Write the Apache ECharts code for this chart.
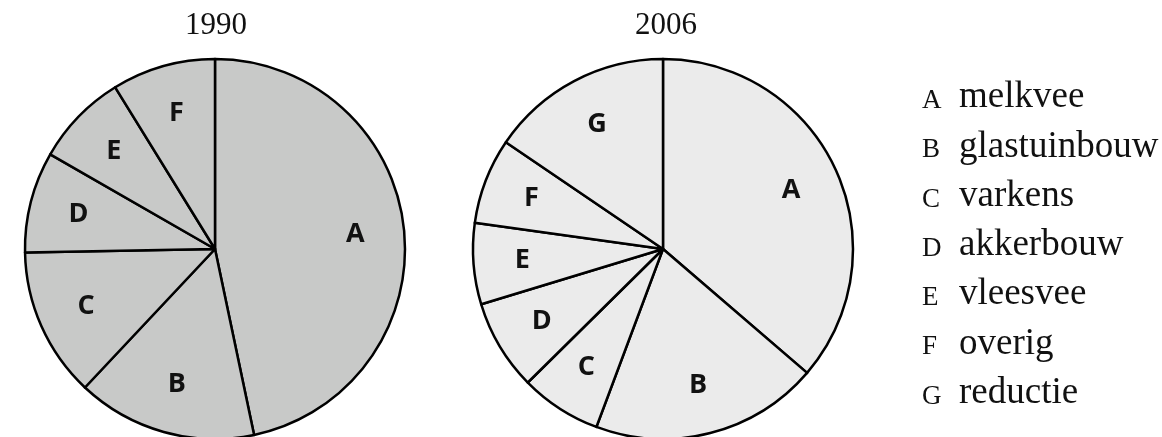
<!DOCTYPE html>
<html>
<head>
<meta charset="utf-8">
<script src="https://cdn.jsdelivr.net/npm/echarts@6/dist/echarts.min.js"></script>
<style>
    html, body { margin: 0; padding: 0; background: #fff; }
    #main { width: 1162px; height: 437px; }
</style>
</head>
<body>
<div id="main"></div>
<script>
// data
var years = ['1990', '2006'];
var cats1990 = ['A', 'B', 'C', 'D', 'E', 'F'];
var vals1990 = [46.7, 15.3, 12.7, 8.6, 7.9, 8.8];
var cats2006 = ['A', 'B', 'C', 'D', 'E', 'F', 'G'];
var vals2006 = [36.3, 19.4, 6.9, 7.7, 6.9, 7.3, 15.5];
var legendKeys = ['A', 'B', 'C', 'D', 'E', 'F', 'G'];
var legendNames = ['melkvee', 'glastuinbouw', 'varkens', 'akkerbouw', 'vleesvee', 'overig', 'reductie'];

var serif = '"Liberation Serif", "DejaVu Serif", serif';

function toData(cats, vals) {
    return cats.map(function (c, i) { return { name: c, value: vals[i] }; });
}

// gevulde taart
function pieSeries(cats, vals, center, fill) {
    return {
        type: 'pie',
        silent: true,
        center: center,
        radius: 190,
        startAngle: 90,
        clockwise: true,
        label: { show: false },
        labelLine: { show: false },
        itemStyle: { color: fill, borderColor: '#000', borderWidth: 2.5 },
        data: toData(cats, vals)
    };
}

// alleen de letters, iets verder naar buiten
function labelSeries(cats, vals, center) {
    return {
        type: 'pie',
        silent: true,
        center: center,
        radius: [86, 190],
        startAngle: 90,
        clockwise: true,
        itemStyle: { color: 'rgba(0,0,0,0)', borderWidth: 0 },
        label: {
            show: true,
            position: 'inside',
            formatter: '{b}',
            color: '#111',
            fontFamily: '"Open Sans", "Noto Sans", sans-serif',
            fontWeight: 'bold',
            fontSize: 27
        },
        labelLine: { show: false },
        data: toData(cats, vals)
    };
}

var graphics = [];
legendKeys.forEach(function (k, i) {
    var base = 110 + i * 49.3;
    graphics.push({
        type: 'text', silent: true,
        style: { text: k, x: 922, y: base - 0.3375 * 27, font: '27px ' + serif, fill: '#111', verticalAlign: 'middle' }
    });
    graphics.push({
        type: 'text', silent: true,
        style: { text: legendNames[i], x: 959, y: base - 0.3375 * 37, font: '37px ' + serif, fill: '#111', verticalAlign: 'middle' }
    });
});

var myChart = echarts.init(document.getElementById('main'));
var option = {
    animation: false,
    backgroundColor: '#fff',
    title: [
        { text: years[0], left: 216, top: 10, textAlign: 'center', padding: 0,
          textStyle: { fontFamily: serif, fontWeight: 'normal', fontSize: 31, color: '#111' } },
        { text: years[1], left: 666, top: 10, textAlign: 'center', padding: 0,
          textStyle: { fontFamily: serif, fontWeight: 'normal', fontSize: 31, color: '#111' } }
    ],
    series: [
        pieSeries(cats1990, vals1990, [215, 249], '#c8c9c8'),
        labelSeries(cats1990, vals1990, [215, 249]),
        pieSeries(cats2006, vals2006, [663, 249], '#ebebeb'),
        labelSeries(cats2006, vals2006, [663, 249])
    ],
    graphic: graphics
};
myChart.setOption(option);
</script>
</body>
</html>
